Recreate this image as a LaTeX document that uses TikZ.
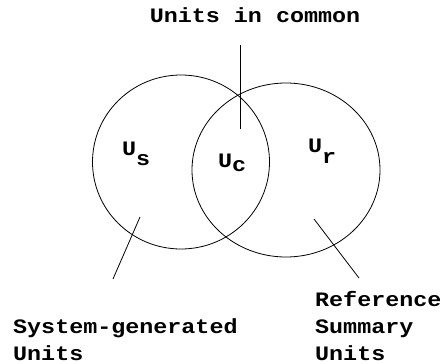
\documentclass[tikz,border=0pt]{standalone}
\usepackage{fontspec}
\newfontfamily\vennfont[FakeStretch=1.14]{Liberation Mono}
\usetikzlibrary{shapes.geometric,positioning}

\begin{document}
\begin{tikzpicture}[
        x=1pt, y=-1pt,
        every node/.style={font=\vennfont\bfseries\fontsize{20.5}{27}\selectfont, inner sep=0pt},
        set/.style={draw, ellipse, line width=0.8pt, inner sep=0pt},
        lbl/.style={anchor=base west, align=left},
        pointer/.style={line width=0.8pt},
    ]
        \useasboundingbox (0,0) rectangle (440,364);

        % The two sets
        \node (sys) [set, minimum width=177, minimum height=174] at (181,162) {};
        \node (ref) [set, minimum width=188, minimum height=174] at (286,170) {};

        % Set names
        \node (us) [anchor=base west] at (122,155) {U\raisebox{-10pt}{s}};
        \node (uc) [anchor=base west] at (218,167) {U\raisebox{-4pt}{c}};
        \node (ur) [anchor=base west] at (308,152) {U\raisebox{-11pt}{r}};

        % Outer labels (base = last line)
        \node (common) [anchor=base] at (255,23) {Units in common};
        \node (syslbl) [lbl] at (13,360) {System-generated\\Units};
        \node (reflbl) [lbl] at (315,360) {Reference\\Summary\\Units};

        % Pointers
        \coordinate (ctop) at (240,45);
        \coordinate (cend) at (240,129);
        \coordinate (stop) at (140,217);
        \coordinate (send) at (113,279);
        \coordinate (rtop) at (314,219);
        \coordinate (rend) at (359,278);

        \draw [pointer] (ctop) -- (cend);
        \draw [pointer] (stop) -- (send);
        \draw [pointer] (rtop) -- (rend);

    \end{tikzpicture}
\end{document}
